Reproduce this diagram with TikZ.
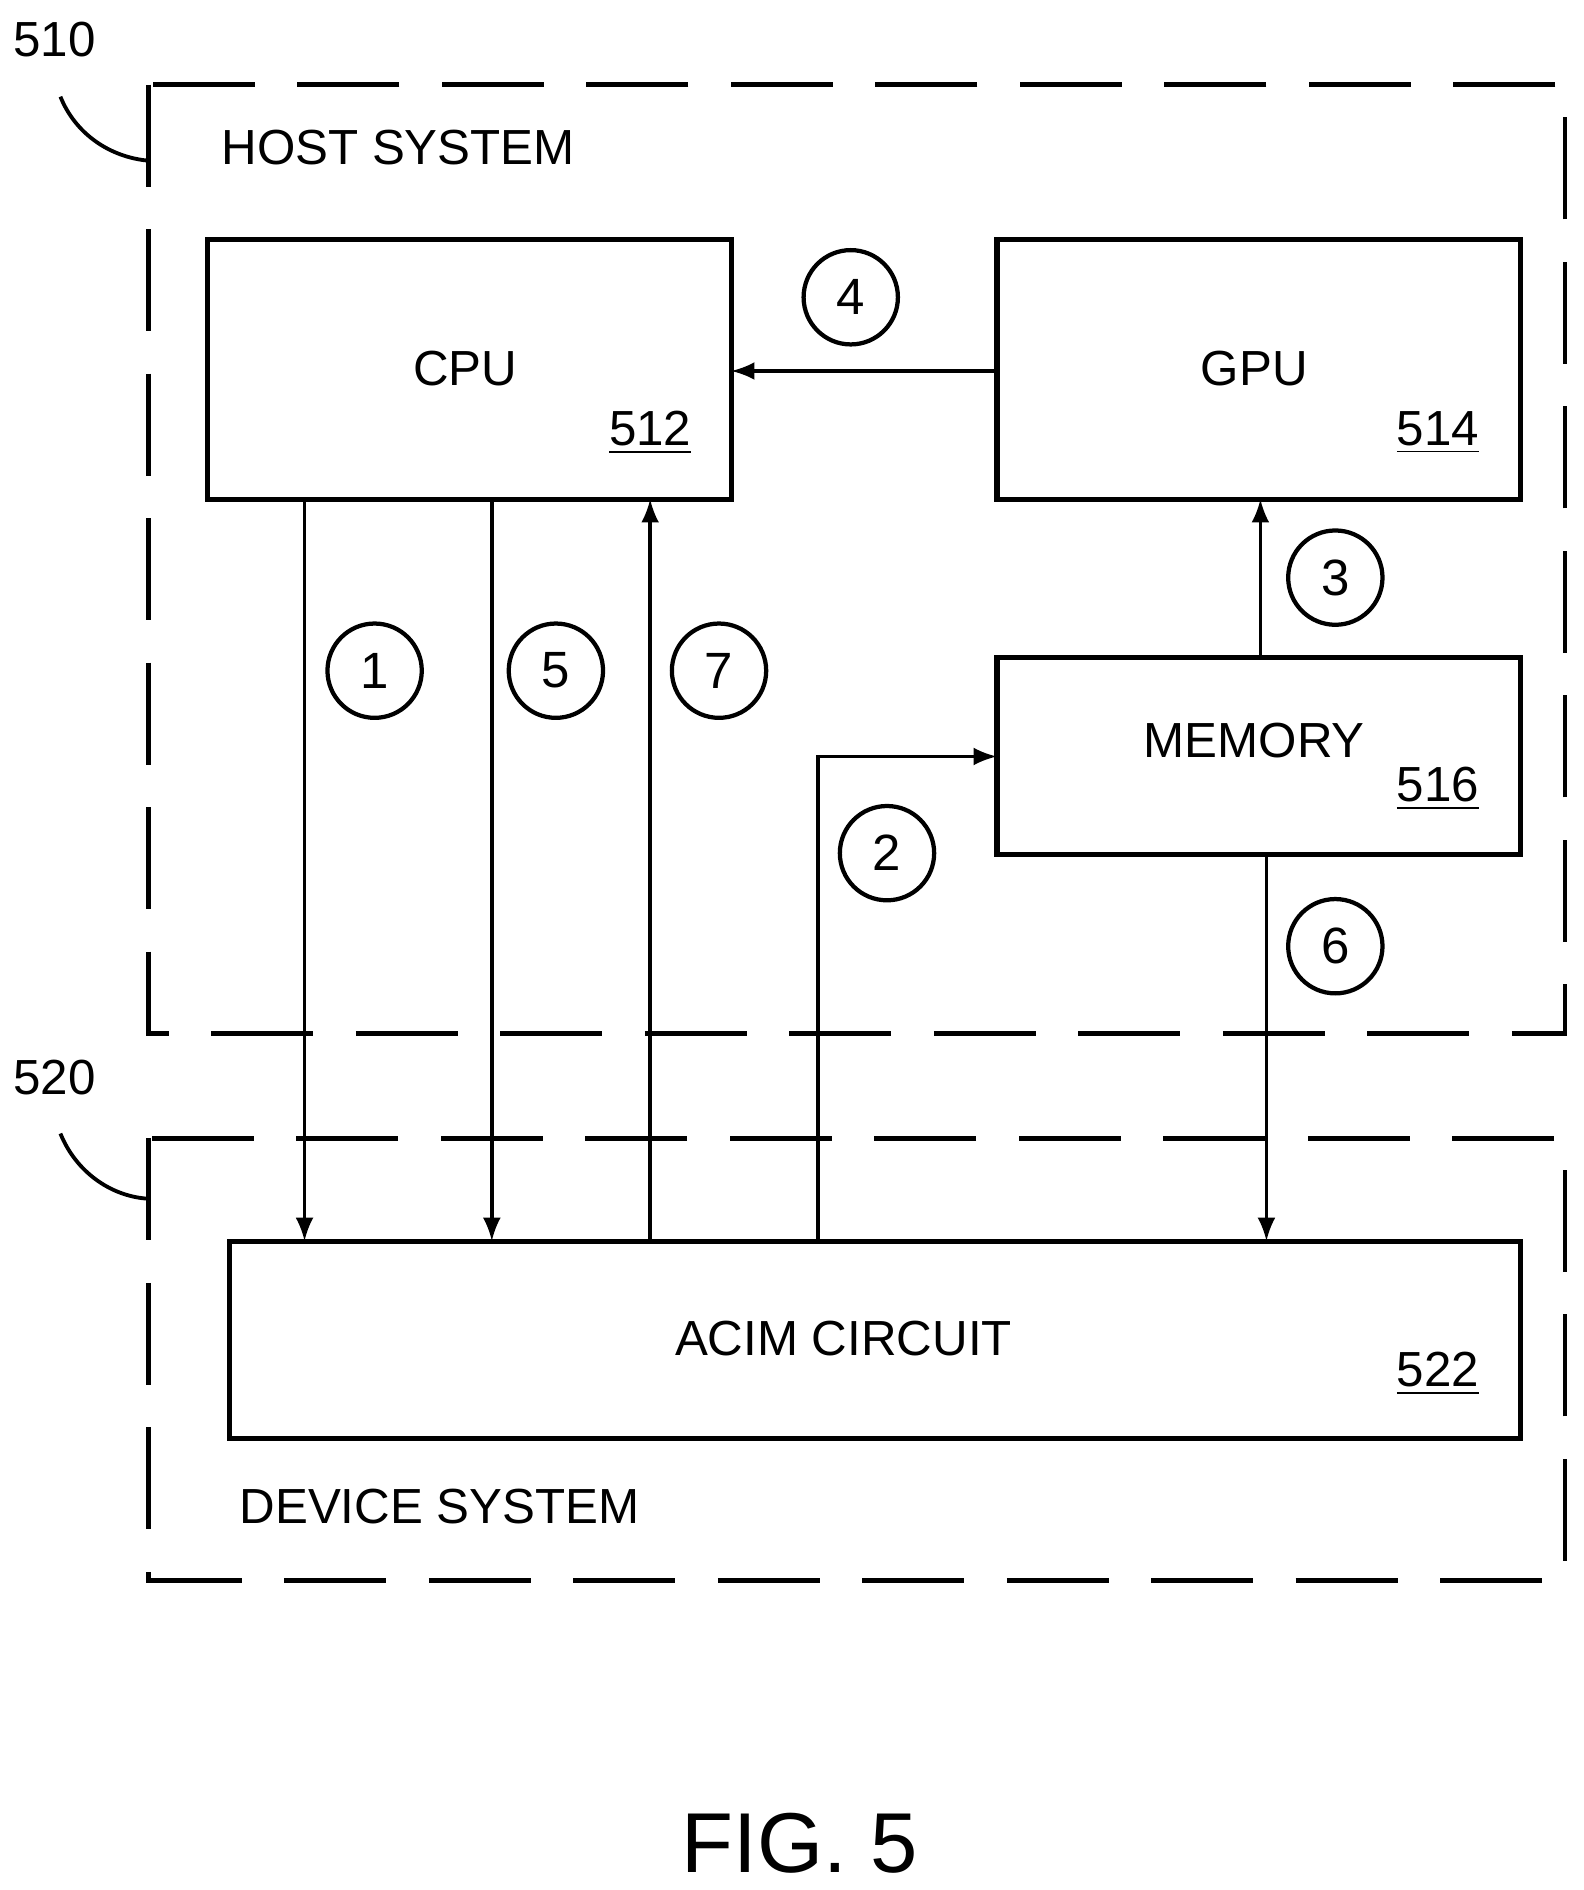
\documentclass[tikz,border=0pt]{standalone}
\usepackage{fontspec}
\setmainfont{Liberation Sans}
\usetikzlibrary{positioning}

\begin{document}
\begin{tikzpicture}[x=0.01cm,y=-0.01cm,line width=0.9pt,
    blk/.style={draw,line width=1.2pt},
    sys/.style={draw,line width=1.1pt,dash pattern=on 24pt off 10pt},
    num/.style={circle,draw,line width=1pt,minimum size=0.78cm,inner sep=0pt,font=\fontsize{12}{14}\selectfont},
    lbl/.style={font=\fontsize{11.6}{14}\selectfont},
    ref/.style={font=\fontsize{11.6}{14}\selectfont,inner sep=1pt},
    arr/.style={-latex}]
  \useasboundingbox (0,0) rectangle (1310,1564);

  % system outlines
  \draw[sys] (123,70) rectangle (1295,855);
  \draw[sys] (123,942) rectangle (1295,1308);
  \node[lbl,anchor=west] (host) at (170,122) {HOST SYSTEM};
  \node[lbl,anchor=west] (dev) at (185,1247) {DEVICE SYSTEM};
  \node[lbl] (n510) at (45,33) {510};
  \node[lbl] (n520) at (45,892) {520};
  \draw[line width=0.9pt] (50,80) .. controls (62,110) and (90,130) .. (123,133);
  \draw[line width=0.9pt] (50,938) .. controls (62,968) and (90,990) .. (123,992);

  % blocks
  \draw[blk] (172,198) rectangle (605,413);
  \draw[blk] (825,198) rectangle (1258,413);
  \draw[blk] (825,544) rectangle (1258,707);
  \draw[blk] (190,1027) rectangle (1258,1190);

  \node[lbl] (cpu) at (385,305) {CPU};
  \node[ref] (r512) at (538,358) {\underline{512}};
  \node[lbl] (gpu) at (1038,305) {GPU};
  \node[ref] (r514) at (1190,358) {\underline{514}};
  \node[lbl] (mem) at (1038,613) {MEMORY};
  \node[ref] (r516) at (1190,653) {\underline{516}};
  \node[lbl] (acim) at (698,1108) {ACIM CIRCUIT};
  \node[ref] (r522) at (1190,1137) {\underline{522}};

  % connectors
  \draw[arr] (252,413) -- (252,1027);
  \draw[arr] (407,413) -- (407,1027);
  \draw[arr] (538,1027) -- (538,413);
  \draw[arr] (677,1027) -- (677,626) -- (825,626);
  \draw[arr] (1043,544) -- (1043,413);
  \draw[arr] (825,307) -- (605,307);
  \draw[arr] (1048,707) -- (1048,1027);

  % step numbers
  \node[num] (s1) at (310,555) {1};
  \node[num] (s2) at (734,706) {2};
  \node[num] (s3) at (1105,478) {3};
  \node[num] (s4) at (704,246) {4};
  \node[num] (s5) at (460,555) {5};
  \node[num] (s6) at (1105,783) {6};
  \node[num] (s7) at (595,555) {7};

  \node[font=\fontsize{20}{24}\selectfont] (fig) at (662,1525) {FIG. 5};
\end{tikzpicture}
\end{document}
